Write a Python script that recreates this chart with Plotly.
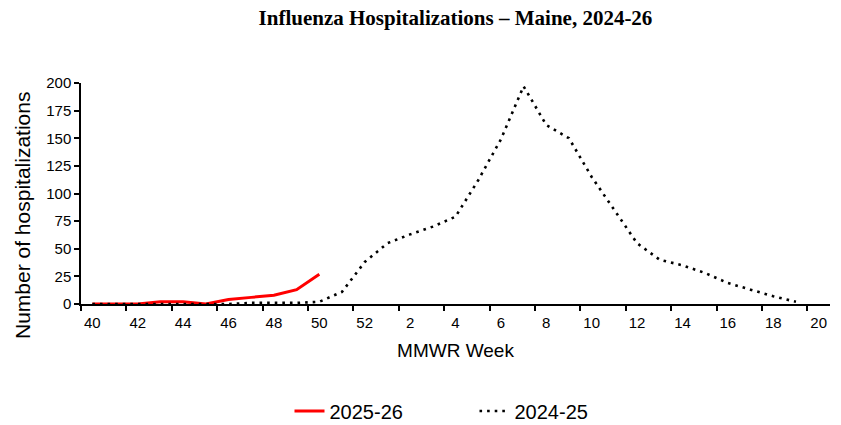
import plotly.graph_objects as go

weeks = [str(w) for w in list(range(40, 53)) + list(range(1, 21))]
season_2025_26 = [0, 0, 0, 2, 2, 0, 4, 6, 8, 13, 27]
season_2024_25 = [0, 0, 0, 0, 0, 0, 0, 1, 1, 1, 2, 11, 38, 55, 63, 70, 79,
                  112, 149, 197, 162, 150, 115, 85, 55, 40, 35, 28, 19, 13, 7, 2]

idx = list(range(len(weeks)))
label_idx = idx[::2]
label_text = [weeks[i] for i in label_idx]
boundaries = [i - 0.5 for i in label_idx]

W, H = 841, 425
L, R, T, B = 81, 11, 83, 121
PW, PH = W - L - R, H - T - B

fig = go.Figure()
fig.add_trace(go.Scatter(
    x=idx[:len(season_2025_26)], y=season_2025_26, mode="lines", name="2025-26",
    line=dict(color="#ff0000", width=3),
))
fig.add_trace(go.Scatter(
    x=idx[:len(season_2024_25)], y=season_2024_25, mode="lines", name="2024-25",
    line=dict(color="black", width=2.6, dash="2.6px,5px"),
))

font_family = "Liberation Sans, Arial, sans-serif"
fig.update_layout(
    width=W, height=H,
    margin=dict(l=L, r=R, t=T, b=B, autoexpand=False),
    plot_bgcolor="white", paper_bgcolor="white",
    font=dict(family=font_family, color="black", size=15),
    title=dict(
        text="<b>Influenza Hospitalizations – Maine, 2024-26</b>",
        font=dict(family="Liberation Serif, Times New Roman, serif", size=21, color="black"),
        x=0.5, xanchor="center", xref="paper",
        y=1 - 18 / H, yref="container", yanchor="middle",
    ),
    showlegend=True,
    legend=dict(
        orientation="h", x=0.5 + 19 / PW, xanchor="center", xref="paper",
        y=(H - 411) / H, yref="container", yanchor="middle",
        font=dict(size=20), entrywidth=140,
    ),
    xaxis=dict(
        range=[-0.5, len(weeks) - 0.5],
        tickvals=label_idx, ticktext=label_text, ticks="",
        minor=dict(tickvals=boundaries, ticks="outside", ticklen=5,
                   tickcolor="black", tickwidth=1.5, showgrid=False),
        showline=True, linecolor="black", linewidth=1.5,
        showgrid=False, zeroline=False,
        tickfont=dict(size=15), ticklabelstandoff=4,
        title=dict(text="MMWR Week", font=dict(size=19), standoff=14),
    ),
    yaxis=dict(
        range=[0, 200], tickvals=list(range(0, 201, 25)),
        ticks="outside", ticklen=5, tickcolor="black", tickwidth=1.5,
        showline=True, linecolor="black", linewidth=1.5,
        showgrid=False, zeroline=False,
        tickfont=dict(size=15),
    ),
    annotations=[dict(
        text="Number of hospitalizations", textangle=-90,
        xref="paper", x=-(L - 22) / PW, xanchor="center",
        yref="paper", y=(304 - 216) / PH, yanchor="middle",
        showarrow=False, font=dict(size=21),
    )],
)

fig.write_html("out.html", config={"displayModeBar": False},
               post_script="document.body.style.margin='0';")
